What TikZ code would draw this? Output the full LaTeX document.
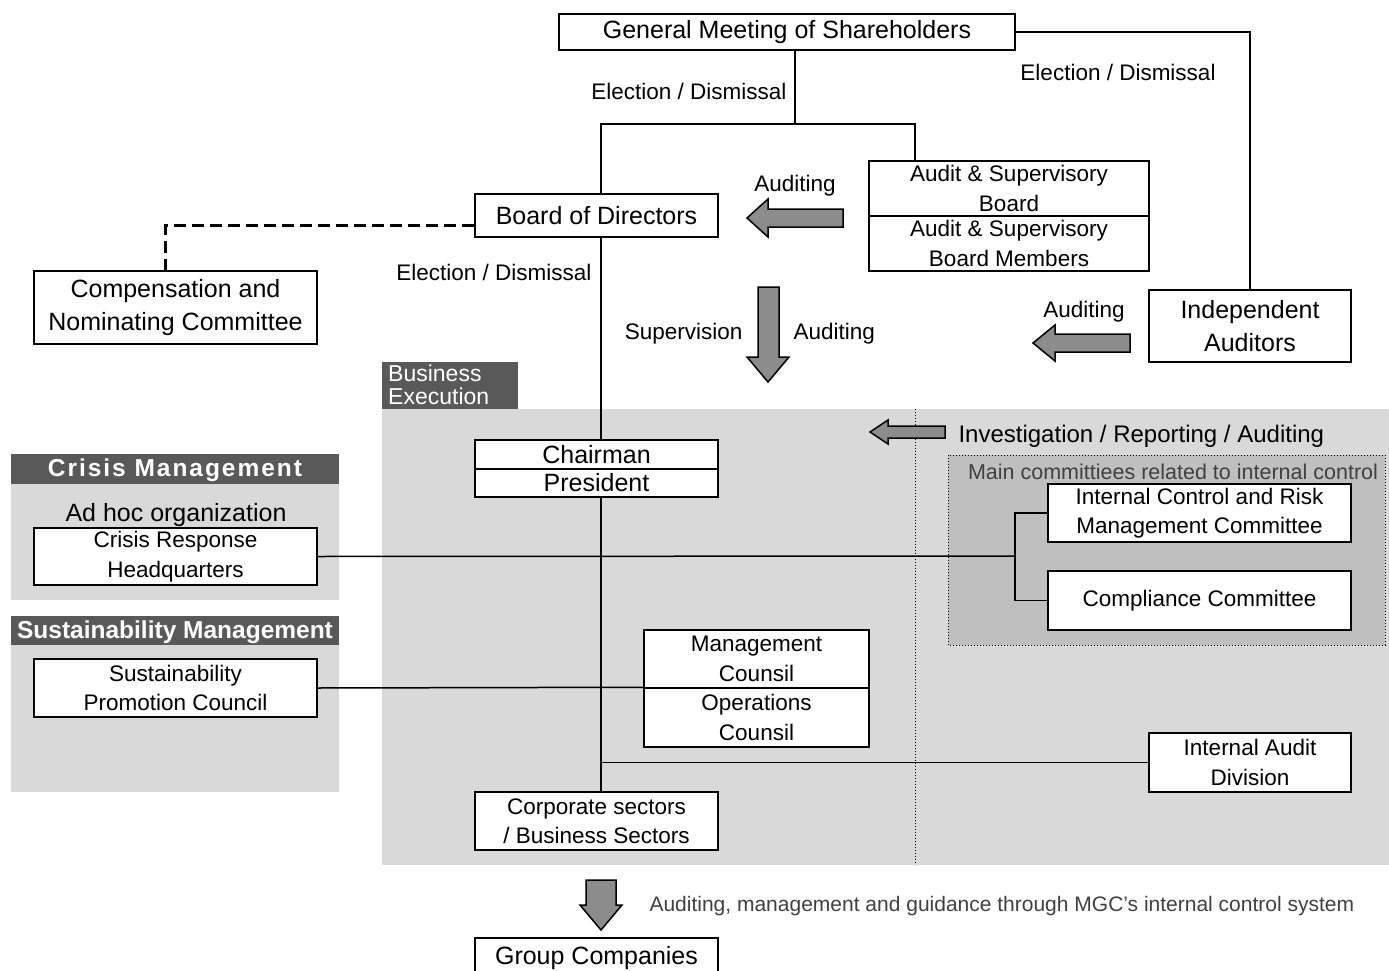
\documentclass[tikz,border=0pt]{standalone}
\usepackage{fontspec}
\setmainfont{Liberation Sans}
\usetikzlibrary{positioning}
\definecolor{panelgray}{HTML}{D9D9D9}
\definecolor{innergray}{HTML}{BFBFBF}
\definecolor{hdrgray}{HTML}{595959}
\definecolor{arrowgray}{HTML}{8C8C8C}
\definecolor{notegray}{HTML}{404040}
\tikzset{
  box/.style={draw, fill=white, line width=1.5pt, inner sep=0pt, align=center},
  bigtxt/.style={font=\fontsize{25}{33}\selectfont},
  medtxt/.style={font=\fontsize{22.5}{29.5}\selectfont},
  smalltxt/.style={font=\fontsize{21}{24}\selectfont},
  conn/.style={line width=1.5pt},
  dashconn/.style={line width=3pt, dash pattern=on 12pt off 6pt},
  barrow/.style={draw, line width=1.5pt, fill=arrowgray, line join=miter},
  hdrtxt/.style={text=white, font=\fontsize{24.5}{28}\selectfont\bfseries},
  lbl/.style={medtxt, yshift=-2pt},
}

\begin{document}
\begin{tikzpicture}[x=1pt, y=-1pt]
\useasboundingbox (0,0) rectangle (1389,971);

\fill[panelgray] (382,409) rectangle (1389,865);
\fill[hdrgray] (382,362) rectangle (518,409);
\node[anchor=north west, text=white, align=left, inner sep=0pt, font=\fontsize{23}{23}\selectfont] (bizexec) at (388,365) {Business\\Execution};
\draw[dotted, line width=1pt] (915,409) -- (915,865);
\draw[dotted, line width=1pt, fill=innergray] (948,455) rectangle (1385,645);
\node[text=notegray, smalltxt, font=\fontsize{21.5}{24}\selectfont] (mainnote) at (1173,472) {Main committiees related to internal control};

\fill[panelgray] (11,484) rectangle (339,600);
\fill[hdrgray] (11,454) rectangle (339,484);
\node[hdrtxt, font=\fontsize{24.5}{28}\selectfont\bfseries\addfontfeature{LetterSpace=8}] (crisishdr) at (175,470) {Crisis Management};
\fill[panelgray] (11,645) rectangle (339,792);
\fill[hdrgray] (11,616) rectangle (339,645);
\node[hdrtxt] (sushdr) at (175,632) {Sustainability Management};
\node[bigtxt] (adhoc) at (176,515) {Ad hoc organization};

\node[box, bigtxt, minimum width=456pt, minimum height=36pt] (gms) at (787,32) {General Meeting of Shareholders};
\node[box, bigtxt, minimum width=243pt, minimum height=43pt] (board) at (596.5,215.5) {Board of Directors};
\node[box, medtxt, minimum width=280pt, minimum height=55pt] (asb) at (1009,188.5) {Audit \& Supervisory\\Board};
\node[box, medtxt, minimum width=280pt, minimum height=55pt] (asbm) at (1009,243.5) {Audit \& Supervisory\\Board Members};
\node[box, bigtxt, minimum width=283pt, minimum height=73pt] (comp) at (175.5,307.5) {Compensation and\\Nominating Committee};
\node[box, bigtxt, minimum width=202pt, minimum height=72pt] (ind) at (1250,326) {Independent\\Auditors};
\node[box, bigtxt, minimum width=243pt, minimum height=29pt] (chair) at (596.5,454.5) {Chairman};
\node[box, bigtxt, minimum width=243pt, minimum height=28pt] (pres) at (596.5,483) {President};
\node[box, medtxt, minimum width=283pt, minimum height=57pt] (crh) at (175.5,556.5) {Crisis Response\\Headquarters};
\node[box, medtxt, minimum width=283pt, minimum height=58pt] (spc) at (175.5,688) {Sustainability\\Promotion Council};
\node[box, medtxt, minimum width=303pt, minimum height=58pt] (icr) at (1199.5,513) {Internal Control and Risk\\Management Committee};
\node[box, medtxt, minimum width=303pt, minimum height=59pt] (cc) at (1199.5,600.5) {Compliance Committee};
\node[box, medtxt, minimum width=225pt, minimum height=58pt] (mc) at (756.5,659) {Management\\Counsil};
\node[box, medtxt, minimum width=225pt, minimum height=59pt] (oc) at (756.5,717.5) {Operations\\Counsil};
\node[box, medtxt, minimum width=202pt, minimum height=59pt] (iad) at (1250,762.5) {Internal Audit\\Division};
\node[box, medtxt, minimum width=243pt, minimum height=58pt] (corp) at (596.5,821) {Corporate sectors\\/ Business Sectors};
\node[box, bigtxt, minimum width=243pt, minimum height=40pt] (group) at (596.5,958) {Group Companies};

\coordinate (spine) at (601,0);
\coordinate (top) at (795,124);
\coordinate (brk) at (1015,556);
\draw[conn] (gms.south -| top) -- (top);
\draw[conn] (board.north -| spine) |- (top) -| (asb.north -| 915,0);
\draw[conn] (gms.east) -| (ind.north);
\draw[dashconn] ([yshift=-10pt]board.west) -| ([xshift=-10pt]comp.north);
\draw[conn] (board.south -| spine) -- (chair.north -| spine);
\draw[conn] (pres.south -| spine) -- (corp.north -| spine);
\draw[conn] (crh.east) -- (brk);
\draw[conn] (icr.west) -| (brk) |- (cc.west);
\draw[conn] (spc.east) -- (oc.north west);
\draw[conn] (iad.west) -- (iad.west -| spine);

\node[lbl, anchor=east] (elec1) at (790,89) {Election / Dismissal};
\node[lbl] (elec2) at (1118,70) {Election / Dismissal};
\node[lbl, anchor=east] (elec3) at (595,270) {Election / Dismissal};
\node[lbl] (aud1) at (795,184) {Auditing};
\node[lbl, anchor=east] (superv) at (746,332) {Supervision};
\node[lbl, anchor=west] (aud2) at (790,332) {Auditing};
\node[lbl] (aud3) at (1084,310) {Auditing};
\node[lbl, anchor=west, font=\fontsize{24}{28}\selectfont] (invest) at (955,434) {Investigation / Reporting / Auditing};
\node[smalltxt, text=notegray, anchor=west, yshift=-2pt] (guidance) at (646,904) {Auditing, management and guidance through MGC’s internal control system};

\draw[barrow] (747,218) -- (768,199) -- (768,209) -- (843,209) -- (843,227) -- (768,227) -- (768,237) -- cycle;
\draw[barrow] (758,287) -- (779,287) -- (779,357) -- (789,357) -- (768,382) -- (747,357) -- (758,357) -- cycle;
\draw[barrow] (1033,343) -- (1055,325) -- (1055,334) -- (1130,334) -- (1130,352) -- (1055,352) -- (1055,361) -- cycle;
\draw[barrow] (870,432) -- (888,420) -- (888,426) -- (945,426) -- (945,438) -- (888,438) -- (888,444) -- cycle;
\draw[barrow] (586,880) -- (616,880) -- (616,905) -- (622,905) -- (601,930) -- (580,905) -- (586,905) -- cycle;
\end{tikzpicture}
\end{document}
